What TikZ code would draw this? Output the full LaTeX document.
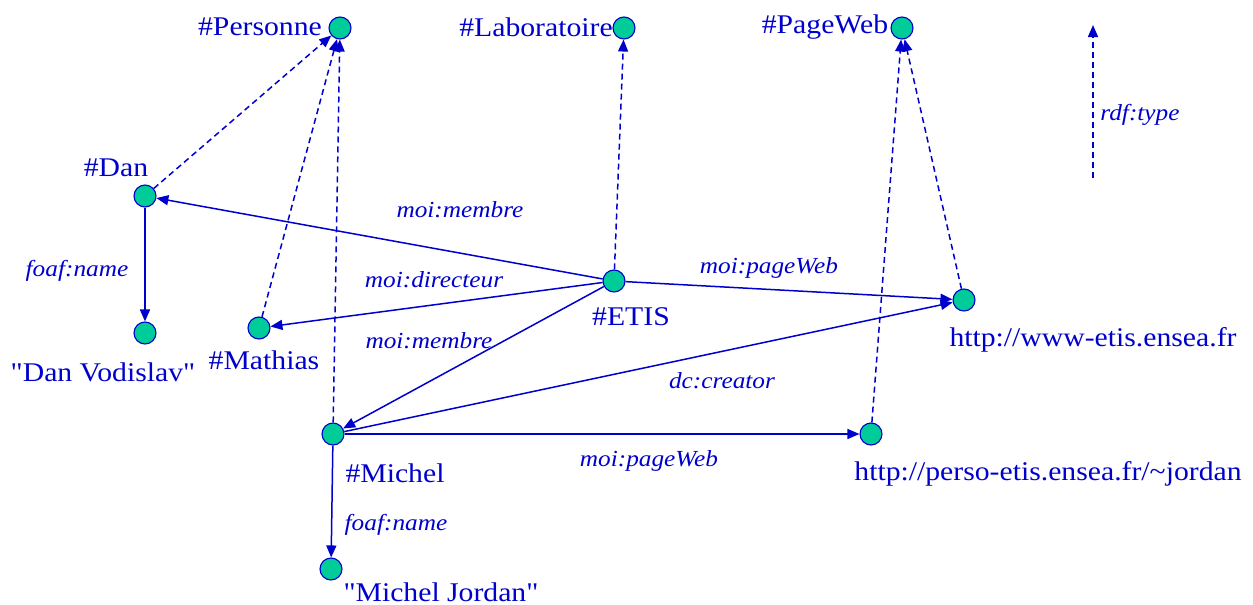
\documentclass[tikz,border=0pt]{standalone}
\usepackage{fontspec}
\setmainfont{Liberation Serif}[FakeStretch=1.1]
\newfontfamily\plainserif{Liberation Serif}[FakeStretch=1.1]
\usetikzlibrary{arrows.meta}
\definecolor{rdfblue}{RGB}{0,0,204}
\definecolor{rdfgreen}{RGB}{0,204,153}
\begin{document}
\begin{tikzpicture}[x=1pt,y=-1pt,
  res/.style={circle,draw=rdfblue,fill=rdfgreen,line width=1.1pt,minimum size=22pt,inner sep=0pt},
  txt/.style={text=rdfblue,inner sep=0pt,font=\fontsize{27}{30}\selectfont},
  lbl/.style={text=rdfblue,inner sep=0pt,font=\fontsize{23}{26}\selectfont\itshape},
  prop/.style={draw=rdfblue,line width=1.5pt,-{Triangle[length=12pt,width=10pt]}},
  typ/.style={prop,dash pattern=on 6pt off 4pt}]
\useasboundingbox (0,0) rectangle (1253,605);
% resources
\node[res] (pers) at (340,28) {};
\node[res] (lab) at (624,28) {};
\node[res] (pw) at (902,28) {};
\node[res] (dan) at (145,196) {};
\node[res] (danv) at (145,333) {};
\node[res] (math) at (259,328) {};
\node[res] (etis) at (614,281) {};
\node[res] (etisurl) at (964,300) {};
\node[res] (mich) at (333,434) {};
\node[res] (persourl) at (871,434) {};
\node[res] (michj) at (331,569) {};
% node texts
\node[txt] (tpers) at (260,27) {\#Personne};
\node[txt] (tlab) at (536,27) {\#Laboratoire};
\node[txt] (tpw) at (825,27) {\#PageWeb};
\node[txt] (tdan) at (116,168) {\#Dan};
\node[txt] (tdanv) at (103,372) {\plainserif "Dan Vodislav"};
\node[txt] (tmath) at (264,360) {\#Mathias};
\node[txt] (tetis) at (631,317) {\#ETIS};
\node[txt] (tetisurl) at (1093,340) {http://www-etis.ensea.fr};
\node[txt] (tmich) at (395,473) {\#Michel};
\node[txt] (tpersourl) at (1048,474) {http://perso-etis.ensea.fr/\char"7E jordan};
\node[txt] (tmichj) at (441,592) {\plainserif "Michel Jordan"};
% properties
\draw[prop] (etis) -- (dan);
\draw[prop] (etis) -- (math);
\draw[prop] (etis) -- (etisurl);
\draw[prop] (etis) -- (mich);
\draw[prop] (mich) -- (etisurl);
\draw[prop] (mich) -- (persourl);
\draw[prop] (dan) -- (danv);
\draw[prop] (mich) -- (michj);
% types
\draw[typ] (dan) -- (pers);
\draw[typ] (math) -- (pers);
\draw[typ] (mich) -- (pers);
\draw[typ] (etis) -- (lab);
\draw[typ] (persourl) -- (pw);
\draw[typ] (etisurl) -- (pw);
% legend
\coordinate (lg1) at (1093,178);
\coordinate (lg2) at (1093,25);
\draw[typ] (lg1) -- (lg2);
% labels
\node[lbl] (l1) at (460,210) {moi:membre};
\node[lbl] (l2) at (77,271) {foaf:name};
\node[lbl] (l3) at (434,280) {moi:directeur};
\node[lbl] (l4) at (769,268) {moi:pageWeb};
\node[lbl] (l5) at (429,341) {moi:membre};
\node[lbl] (l6) at (722,381) {dc:creator};
\node[lbl] (l7) at (649,461) {moi:pageWeb};
\node[lbl] (l8) at (396,525) {foaf:name};
\node[lbl] (l9) at (1140,115) {rdf:type};
\end{tikzpicture}
\end{document}
